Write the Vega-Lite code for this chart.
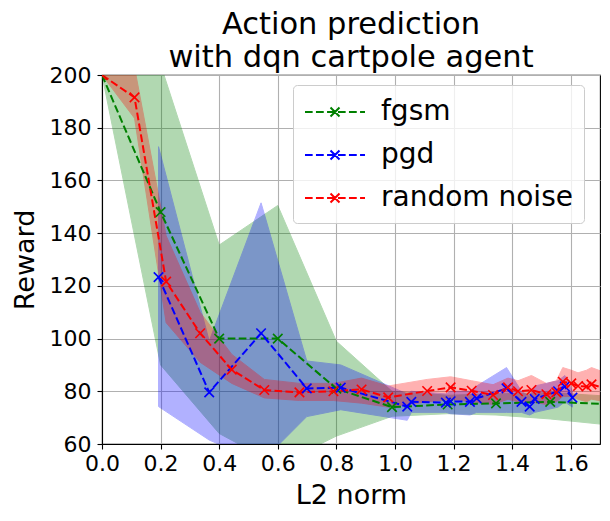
{
  "$schema": "https://vega.github.io/schema/vega-lite/v6.json",
  "width": 498,
  "height": 369,
  "autosize": {"type": "none"},
  "padding": {"left": 102, "top": 75, "right": 10, "bottom": 77},
  "background": "white",
  "title": {
    "text": ["Action prediction", "with dqn cartpole agent"],
    "fontSize": 30.5,
    "fontWeight": "normal",
    "font": "DejaVu Sans",
    "color": "black",
    "anchor": "middle",
    "frame": "group",
    "baseline": "bottom",
    "lineHeight": 33,
    "offset": 4,
    "dy": 43
  },
  "config": {
    "font": "DejaVu Sans",
    "view": {"stroke": "black", "strokeWidth": 1.1},
    "axis": {
      "domainColor": "black",
      "domainWidth": 1.1,
      "tickColor": "black",
      "tickWidth": 1.1,
      "tickSize": 5,
      "labelColor": "black",
      "labelFontSize": 22,
      "titleFontSize": 27,
      "titleFontWeight": "normal",
      "titleColor": "black",
      "gridColor": "#b0b0b0",
      "gridWidth": 1.1,
      "gridOpacity": 1
    }
  },
  "data": {
    "values": [
      {"method": "fgsm", "x": 0.0, "y": 200, "lo": 200, "hi": 200},
      {"method": "fgsm", "x": 0.2, "y": 148, "lo": 90, "hi": 204},
      {"method": "fgsm", "x": 0.4, "y": 100, "lo": 64, "hi": 135.5},
      {"method": "fgsm", "x": 0.6, "y": 100, "lo": 52, "hi": 150.5},
      {"method": "fgsm", "x": 0.8, "y": 81, "lo": 63, "hi": 99},
      {"method": "fgsm", "x": 0.99, "y": 74, "lo": 70.5, "hi": 80},
      {"method": "fgsm", "x": 1.18, "y": 75, "lo": 71.5, "hi": 78.5},
      {"method": "fgsm", "x": 1.345, "y": 75.4, "lo": 71, "hi": 79},
      {"method": "fgsm", "x": 1.53, "y": 76, "lo": 69.5, "hi": 79.5},
      {"method": "fgsm", "x": 1.75, "y": 75, "lo": 67, "hi": 78},
      {"method": "pgd", "x": 0.193, "y": 123.3, "lo": 74.2, "hi": 172.8},
      {"method": "pgd", "x": 0.366, "y": 79.6, "lo": 61.5, "hi": 99},
      {"method": "pgd", "x": 0.543, "y": 102, "lo": 53, "hi": 151.5},
      {"method": "pgd", "x": 0.699, "y": 81.1, "lo": 70.4, "hi": 91.5},
      {"method": "pgd", "x": 0.815, "y": 81.4, "lo": 73, "hi": 90},
      {"method": "pgd", "x": 1.042, "y": 74.2, "lo": 69, "hi": 79},
      {"method": "pgd", "x": 1.056, "y": 76, "lo": 72, "hi": 80},
      {"method": "pgd", "x": 1.174, "y": 75.7, "lo": 72, "hi": 79},
      {"method": "pgd", "x": 1.19, "y": 76.2, "lo": 71.5, "hi": 80},
      {"method": "pgd", "x": 1.256, "y": 76, "lo": 71, "hi": 80},
      {"method": "pgd", "x": 1.279, "y": 77.3, "lo": 72, "hi": 82},
      {"method": "pgd", "x": 1.381, "y": 81.1, "lo": 72, "hi": 89},
      {"method": "pgd", "x": 1.432, "y": 76, "lo": 72, "hi": 80},
      {"method": "pgd", "x": 1.46, "y": 74.2, "lo": 71, "hi": 78},
      {"method": "pgd", "x": 1.477, "y": 77.1, "lo": 72, "hi": 82},
      {"method": "pgd", "x": 1.557, "y": 80, "lo": 74, "hi": 84},
      {"method": "pgd", "x": 1.58, "y": 81.8, "lo": 76, "hi": 86},
      {"method": "pgd", "x": 1.606, "y": 77.6, "lo": 74, "hi": 80},
      {"method": "random noise", "x": 0.0, "y": 200, "lo": 200, "hi": 200},
      {"method": "random noise", "x": 0.111, "y": 191.5, "lo": 183.6, "hi": 203},
      {"method": "random noise", "x": 0.219, "y": 121.6, "lo": 106, "hi": 139},
      {"method": "random noise", "x": 0.335, "y": 102, "lo": 91, "hi": 110},
      {"method": "random noise", "x": 0.443, "y": 88.2, "lo": 83, "hi": 94},
      {"method": "random noise", "x": 0.554, "y": 80.5, "lo": 77.5, "hi": 84.5},
      {"method": "random noise", "x": 0.674, "y": 79.6, "lo": 76.5, "hi": 83},
      {"method": "random noise", "x": 0.79, "y": 80, "lo": 76.5, "hi": 83},
      {"method": "random noise", "x": 0.886, "y": 80.7, "lo": 75.5, "hi": 85},
      {"method": "random noise", "x": 0.977, "y": 77.7, "lo": 74, "hi": 82},
      {"method": "random noise", "x": 1.11, "y": 80.1, "lo": 76, "hi": 84.5},
      {"method": "random noise", "x": 1.19, "y": 81.5, "lo": 77, "hi": 85.5},
      {"method": "random noise", "x": 1.262, "y": 80.2, "lo": 76, "hi": 84},
      {"method": "random noise", "x": 1.335, "y": 78.6, "lo": 75, "hi": 82.5},
      {"method": "random noise", "x": 1.386, "y": 81.5, "lo": 77, "hi": 85},
      {"method": "random noise", "x": 1.42, "y": 80, "lo": 76, "hi": 84},
      {"method": "random noise", "x": 1.466, "y": 80.5, "lo": 76, "hi": 86},
      {"method": "random noise", "x": 1.517, "y": 78.9, "lo": 75, "hi": 83},
      {"method": "random noise", "x": 1.551, "y": 79.6, "lo": 76, "hi": 84},
      {"method": "random noise", "x": 1.573, "y": 83.6, "lo": 78, "hi": 89},
      {"method": "random noise", "x": 1.602, "y": 83, "lo": 78, "hi": 88},
      {"method": "random noise", "x": 1.625, "y": 82, "lo": 77, "hi": 87},
      {"method": "random noise", "x": 1.654, "y": 81.8, "lo": 76, "hi": 88},
      {"method": "random noise", "x": 1.671, "y": 82.6, "lo": 77, "hi": 89},
      {"method": "random noise", "x": 1.72, "y": 81, "lo": 76, "hi": 87}
    ]
  },
  "encoding": {
    "x": {
      "field": "x",
      "type": "quantitative",
      "scale": {"domain": [0, 1.7], "nice": false, "zero": false},
      "axis": {"values": [0, 0.2, 0.4, 0.6, 0.8, 1.0, 1.2, 1.4, 1.6], "format": ".1f", "labelPadding": 4, "titlePadding": 8, "labelFlush": false},
      "title": "L2 norm"
    },
    "color": {
      "field": "method",
      "type": "nominal",
      "scale": {"domain": ["fgsm", "pgd", "random noise"], "range": ["green", "blue", "red"]},
      "legend": {
        "orient": "none",
        "legendX": 191,
        "legendY": 10,
        "title": null,
        "symbolType": "M-2,0L-1.49,0M-1.27,0L-0.75,0M-0.53,0L-0.02,0M0.2,0L0.71,0M0.93,0L1.45,0M1.67,0L2,0M-0.3,-0.3L0.3,0.3M-0.3,0.3L0.3,-0.3",
        "symbolSize": 900,
        "symbolOffset": 15,
        "symbolStrokeWidth": 2,
        "symbolOpacity": 1,
        "symbolDash": [100, 0],
        "labelFontSize": 28,
        "labelColor": "black",
        "labelOffset": 30,
        "labelLimit": 400,
        "padding": 11,
        "rowPadding": 13,
        "fillColor": "rgba(255,255,255,0.8)",
        "strokeColor": "#cccccc",
        "cornerRadius": 4
      }
    }
  },
  "layer": [
    {
      "mark": {"type": "area", "opacity": 0.3, "strokeWidth": 1, "clip": true},
      "encoding": {
        "y": {
          "field": "lo",
          "type": "quantitative",
          "scale": {"domain": [60, 200], "nice": false, "zero": false},
          "axis": {"values": [60, 80, 100, 120, 140, 160, 180, 200], "labelPadding": 6, "titlePadding": 10},
          "title": "Reward"
        },
        "y2": {"field": "hi"},
        "stroke": {
          "field": "method",
          "type": "nominal",
          "scale": {"domain": ["fgsm", "pgd", "random noise"], "range": ["green", "blue", "red"]},
          "legend": null
        }
      }
    },
    {
      "mark": {"type": "line", "strokeWidth": 2, "strokeDash": [7.7, 3.3], "clip": true},
      "encoding": {
        "y": {"field": "y", "type": "quantitative"}
      }
    },
    {
      "mark": {"type": "point", "shape": "M-1,-1L1,1M-1,1L1,-1", "filled": false, "size": 90, "strokeWidth": 1.6, "opacity": 1, "clip": true},
      "encoding": {
        "y": {"field": "y", "type": "quantitative"}
      }
    }
  ]
}
